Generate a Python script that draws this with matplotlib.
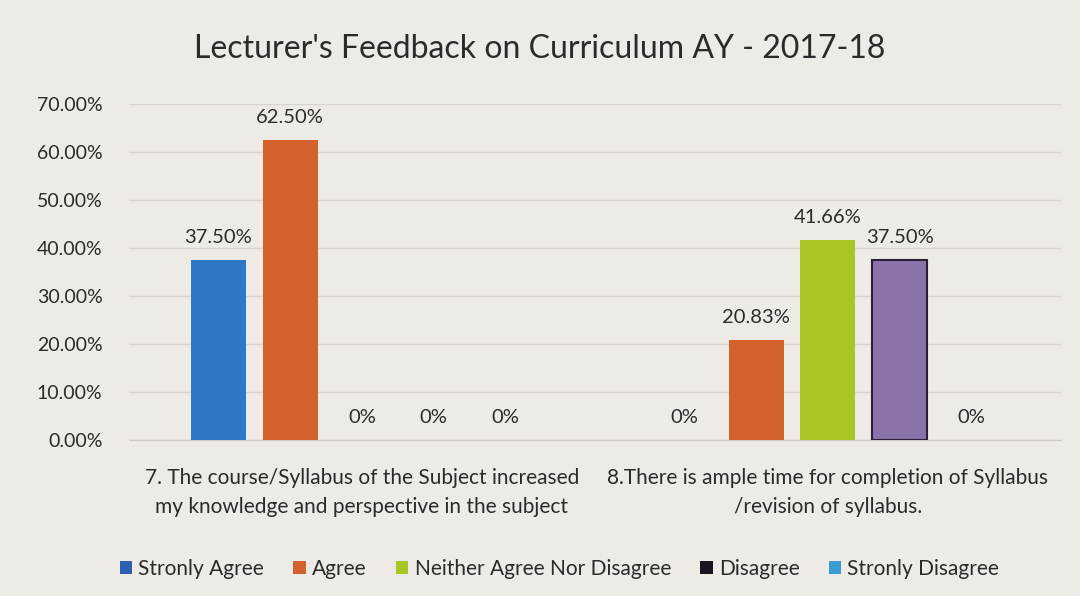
import numpy as np
import matplotlib.pyplot as plt
from matplotlib.patches import Patch

# Data
categories = ["7. The course/Syllabus of the Subject increased\nmy knowledge and perspective in the subject",
              "8.There is ample time for completion of Syllabus\n/revision of syllabus."]
series = ["Stronly Agree", "Agree", "Neither Agree Nor Disagree", "Disagree", "Stronly Disagree"]
strongly_agree = [0.375, 0.0]
agree = [0.625, 0.2083]
neither = [0.0, 0.4166]
disagree = [0.0, 0.375]
strongly_disagree = [0.0, 0.0]
values = [strongly_agree, agree, neither, disagree, strongly_disagree]

bar_colors = ['#2F78C6', '#D2612B', '#A7C523', '#8C72AA', '#3B9AD0']
legend_colors = ['#2F5FB0', '#D2612B', '#A7C523', '#1C1420', '#3B9AD0']
edge_colors = ['none', 'none', 'none', '#2A1E3A', 'none']

bg = '#EEEAE5'
txt = '#2B2B2B'
plt.rcParams['font.family'] = ['Lato', 'DejaVu Sans']

fig = plt.figure(figsize=(10.8, 5.96), dpi=100, facecolor=bg)
ax = fig.add_axes([0.1194, 0.2617, 0.863, 0.5638], facecolor=bg)

x = np.arange(len(categories))
step = 0.154
width = 0.118
for i, (name, vals) in enumerate(zip(series, values)):
    pos = x + (i - 2) * step
    lw = [1.5 if v > 0 else 0 for v in vals]
    bars = ax.bar(pos, vals, width, color=bar_colors[i], edgecolor=edge_colors[i],
                  linewidth=lw, label=name, zorder=3)
    for b, v in zip(bars, vals):
        lbl = '0%' if v == 0 else f'{v*100:.2f}%'
        ax.annotate(lbl, (b.get_x() + b.get_width() / 2, v), xytext=(0, 16),
                    textcoords='offset points', ha='center', va='center',
                    fontsize=14.5, color=txt)

ax.set_xlim(-0.5, 1.5)
ax.set_ylim(0, 0.7)
ax.set_yticks(np.arange(0, 0.71, 0.1))
ax.set_yticklabels([f'{t*100:.2f}%' for t in np.arange(0, 0.71, 0.1)])
ax.set_xticks(x)
ax.set_xticklabels(categories, linespacing=1.55)
ax.tick_params(axis='y', length=0, pad=19, labelsize=14, labelcolor=txt)
ax.tick_params(axis='x', length=0, pad=20, labelsize=15, labelcolor=txt)
ax.grid(axis='y', color='#DAD5D0', linewidth=1, zorder=0)
for s in ['top', 'right', 'left']:
    ax.spines[s].set_visible(False)
ax.spines['bottom'].set_color('#D0CBC6')

fig.text(0.5, 0.918, "Lecturer's Feedback on Curriculum AY - 2017-18",
         ha='center', va='center', fontsize=23, color=txt)

handles = [Patch(facecolor=c, label=n) for c, n in zip(legend_colors, series)]
fig.legend(handles=handles, loc='center', bbox_to_anchor=(0.518, 0.045), ncol=5,
           frameon=False, fontsize=15, handlelength=0.6, handleheight=0.6,
           handletextpad=0.3, columnspacing=1.4, labelcolor=txt)

plt.savefig('out.png', dpi=100, facecolor=bg)
